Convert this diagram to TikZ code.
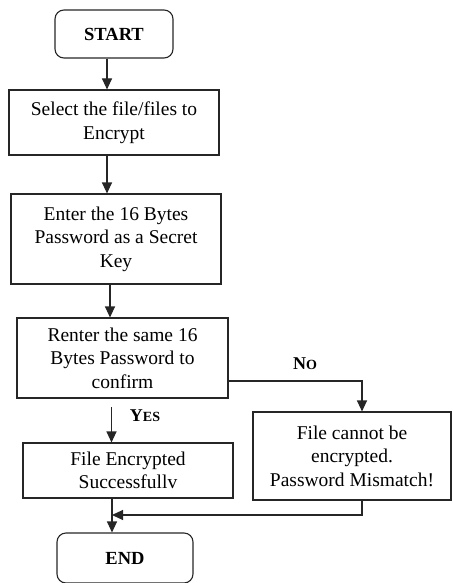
\documentclass[tikz,border=0pt]{standalone}
\usepackage{fontspec}
\setmainfont{Liberation Serif}
\usetikzlibrary{arrows.meta}
\begin{document}
\begin{tikzpicture}[x=1pt,y=-1pt,
  every node/.style={font=\fontsize{19.5}{23.5}\selectfont, inner sep=0pt},
  boxstyle/.style={draw=black!85, line width=1.1pt, align=center, anchor=center},
  termstyle/.style={boxstyle, rounded corners=9pt, font=\fontsize{18.5}{22}\selectfont\bfseries},
  arr/.style={draw=black!85, line width=1.1pt, -{Triangle[length=11pt,width=10pt]}},
  lbl/.style={font=\fontsize{18}{20}\selectfont\bfseries}
]
\useasboundingbox (0,0) rectangle (452,583);
\node[termstyle, minimum width=118pt, minimum height=48pt] (start) at (114,34) {START};
\node[boxstyle, minimum width=210pt, minimum height=65pt] (b1) at (114,122.5) {Select the file/files to\\Encrypt};
\node[boxstyle, minimum width=210pt, minimum height=90pt] (b2) at (116,239) {Enter the 16 Bytes\\Password as a Secret\\Key};
\node[boxstyle, minimum width=211pt, minimum height=80pt] (b3) at (122.5,358) {Renter the same 16\\Bytes Password to\\confirm};
\node[boxstyle, minimum width=198pt, minimum height=88pt] (b4) at (352,456) {File cannot be\\encrypted.\\Password Mismatch!};
\node[boxstyle, minimum width=210pt, minimum height=55pt] (b5) at (128,470.5) {File Encrypted\\Successfullv};
\node[termstyle, minimum width=136pt, minimum height=50pt] (end) at (125,558) {END};
\node[lbl] (no) at (305,364) {N{\fontsize{14}{14}\selectfont O}};
\node[lbl] (yes) at (145,416) {Y{\fontsize{14}{14}\selectfont ES}};
\coordinate (y1) at (111.5,407);
\coordinate (m) at (112,515);
\draw[arr] ([xshift=-7pt]start.south) -- ([xshift=-7pt]b1.north);
\draw[arr] ([xshift=-7pt]b1.south) -- ([xshift=-9pt]b2.north);
\draw[arr] ([xshift=-6pt]b2.south) -- ([xshift=-12.5pt]b3.north);
\draw[arr] ([yshift=-23pt]b3.east) -| ([xshift=10pt]b4.north);
\draw[arr] (y1) -- (b5.north -| y1);
\draw[arr] ([xshift=10pt]b4.south) |- (m);
\draw[arr] (b5.south -| m) -- (end.north -| m);
\end{tikzpicture}
\end{document}
